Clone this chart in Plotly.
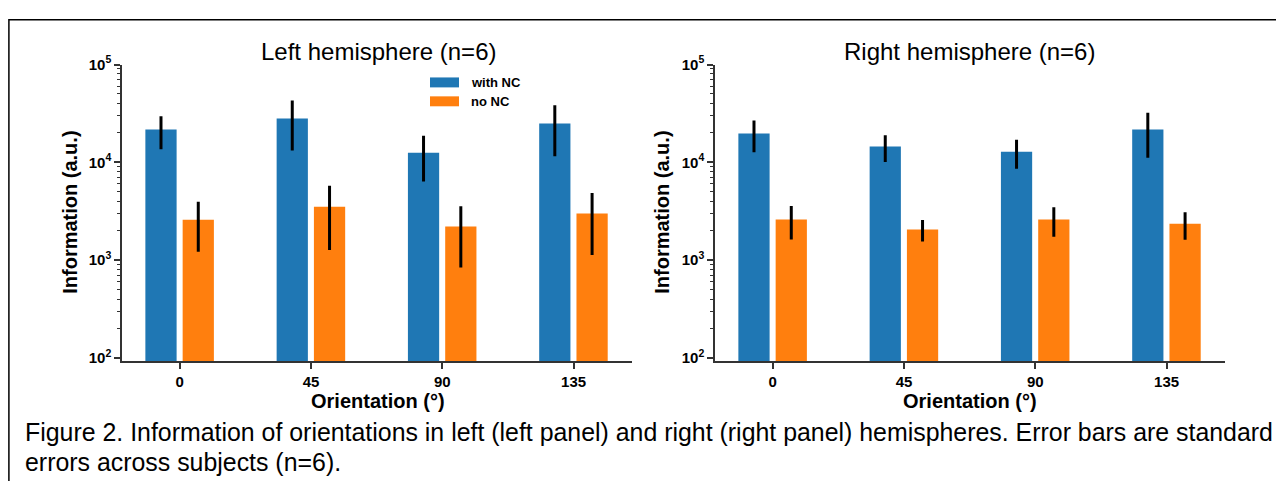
import plotly.graph_objects as go

orientations = ["0", "45", "90", "135"]
left_with_nc = [21600, 28000, 12500, 24900]
left_with_nc_se = [8000, 14800, 6150, 13400]
left_no_nc = [2590, 3520, 2200, 2990]
left_no_nc_se = [1370, 2250, 1360, 1860]
right_with_nc = [19700, 14500, 12800, 21600]
right_with_nc_se = [7000, 4450, 4200, 10450]
right_no_nc = [2600, 2060, 2600, 2350]
right_no_nc_se = [980, 510, 865, 740]

series_names = ["with NC", "no NC"]
colors = ["#1f77b4", "#ff7f0e"]
panel_titles = ["Left hemisphere (n=6)", "Right hemisphere (n=6)"]
x_title = "Orientation (°)"
y_title = "Information (a.u.)"
caption_lines = [
    "Figure 2. Information of orientations in left (left panel) and right (right panel) "
    "hemispheres. Error bars are standard",
    "errors across subjects (n=6).",
]

# the page body keeps its default 8px margin; size the figure so the page fits the
# window and work in reference pixel coordinates (with a small vertical correction
# measured from earlier renders)
OFF = 8
W, H = 1284 - 2 * OFF, 489 - 2 * OFF
VS, VB = 0.971, 10.5


def px(x):
    return (x - OFF) / W


def py(y):
    page_y = (y - VB) / VS
    return 1 - (page_y - OFF) / H


FONT = "Arial, Liberation Sans, Helvetica, sans-serif"

fig = go.Figure()
xpos = list(range(len(orientations)))

panels = [
    (left_with_nc, left_with_nc_se, left_no_nc, left_no_nc_se, "x", "y"),
    (right_with_nc, right_with_nc_se, right_no_nc, right_no_nc_se, "x2", "y2"),
]
for wv, we, nv, ne, xa, ya in panels:
    for vals, errs, name, col, off in [(wv, we, series_names[0], colors[0], -0.262),
                                       (nv, ne, series_names[1], colors[1], 0.022)]:
        fig.add_trace(go.Bar(
            x=xpos, y=vals, name=name, marker_color=col, marker_line_width=0,
            width=0.238, offset=off, xaxis=xa, yaxis=ya, showlegend=False,
            error_y=dict(type="data", array=errs, visible=True, color="black",
                         thickness=3, width=0),
        ))

minor_vals = [m * 10 ** e for e in range(2, 5) for m in range(2, 10)]
yaxis_common = dict(
    type="log", range=[1.968, 5.0], showgrid=False, zeroline=False,
    showline=True, linecolor="#333", linewidth=1.5,
    ticks="outside", ticklen=6, tickwidth=1.5, tickcolor="#333",
    tickmode="array", tickvals=[100, 1000, 10000, 100000],
    ticktext=["10<sup>2</sup>", "10<sup>3</sup>", "10<sup>4</sup>", "10<sup>5</sup>"],
    tickfont=dict(family=FONT, size=15, color="black", weight="bold"),
    minor=dict(ticks="outside", ticklen=3, tickwidth=1, tickcolor="#333",
               tickmode="array", tickvals=minor_vals, showgrid=False),
)
xaxis_common = dict(
    range=[-0.44, 3.445], showgrid=False, zeroline=False,
    showline=True, linecolor="#333", linewidth=1.5,
    ticks="outside", ticklen=6, tickwidth=1.5, tickcolor="#333",
    tickmode="array", tickvals=xpos, ticktext=orientations,
    tickfont=dict(family=FONT, size=15, color="black", weight="bold"),
)

ytop, ybot = py(64), py(362)
fig.update_layout(
    width=W, height=H, margin=dict(l=0, r=0, t=0, b=0),
    paper_bgcolor="white", plot_bgcolor="white", barmode="overlay",
    font=dict(family=FONT, color="black"),
    xaxis=dict(domain=[px(122), px(632)], anchor="y", **xaxis_common),
    yaxis=dict(domain=[ybot, ytop], anchor="x", **yaxis_common),
    xaxis2=dict(domain=[px(715), px(1225)], anchor="y2", **xaxis_common),
    yaxis2=dict(domain=[ybot, ytop], anchor="x2", **yaxis_common),
)

title_font = dict(family=FONT, size=24, color="black")
axis_title_font = dict(family=FONT, size=20, color="black", weight="bold")
annotations = []
for title, cx, ycx in [(panel_titles[0], 378, 70), (panel_titles[1], 970, 662)]:
    annotations.append(dict(text=title, x=px(cx), y=py(51), xref="paper", yref="paper",
                            showarrow=False, font=title_font, xanchor="center", yanchor="middle"))
    annotations.append(dict(text=x_title, x=px(cx), y=py(402), xref="paper", yref="paper",
                            showarrow=False, font=axis_title_font, xanchor="center", yanchor="middle"))
    annotations.append(dict(text=y_title, x=px(ycx), y=py(213), xref="paper", yref="paper",
                            showarrow=False, font=axis_title_font, textangle=-90,
                            xanchor="center", yanchor="middle"))
for i, line in enumerate(caption_lines):
    annotations.append(dict(text=line, x=px(23), y=py(433 + 30 * i), xref="paper", yref="paper",
                            showarrow=False, font=dict(family=FONT, size=24.9, color="black"),
                            xanchor="left", yanchor="middle"))
# legend (inside left panel)
shapes = []
for i, (name, col) in enumerate(zip(series_names, colors)):
    yc = 82 + i * 19
    shapes.append(dict(type="rect", xref="paper", yref="paper",
                       x0=px(430), x1=px(459), y0=py(yc + 5), y1=py(yc - 5),
                       fillcolor=col, line=dict(width=0)))
    annotations.append(dict(text=name, x=px(469), y=py(yc), xref="paper", yref="paper",
                            showarrow=False, xanchor="left", yanchor="middle",
                            font=dict(family=FONT, size=13, color="black", weight="bold")))
# outer frame (top edge as high as the page allows)
shapes.append(dict(type="rect", xref="paper", yref="paper", x0=px(8.9), x1=1.05,
                   y0=-0.05, y1=1 - 0.9 / H, line=dict(color="black", width=1.5),
                   fillcolor="rgba(0,0,0,0)"))
fig.update_layout(annotations=annotations, shapes=shapes)

fig.write_html("out.html")
